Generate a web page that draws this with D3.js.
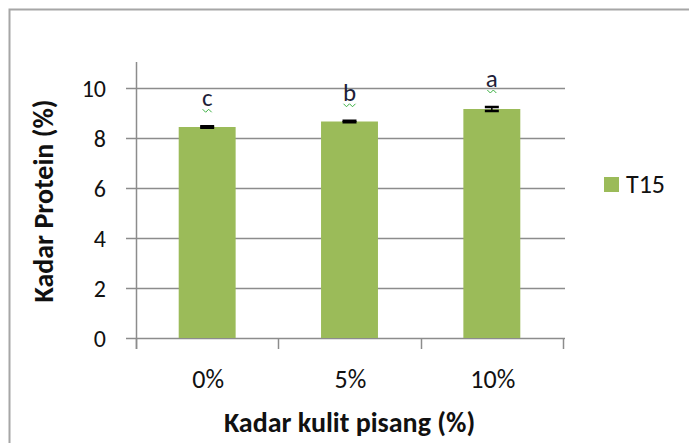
<!DOCTYPE html>
<html>
<head>
<meta charset="utf-8">
<script src="https://cdnjs.cloudflare.com/ajax/libs/d3/7.8.5/d3.min.js"></script>
<style>
  html, body { margin: 0; padding: 0; background: #fff; overflow: hidden; }
  text { font-family: Carlito, Lato, "Open Sans", sans-serif; fill: #111; }
</style>
</head>
<body>
<svg id="chart" width="689" height="443"></svg>
<script>
var categories = ['0%', '5%', '10%'];
var proteinValues = [8.44, 8.66, 9.16];
var errorValues = [0.03, 0.03, 0.08];
var letters = ['c', 'b', 'a'];
var yTicks = [0, 2, 4, 6, 8, 10];
var seriesName = 'T15';

var svg = d3.select('#chart');
var green = '#9bbb59';
var gridColor = '#8c8c8c';

var plotLeft = 136, plotRight = 563, plotTop = 62, plotBottom = 338;

// outer chart border (right & bottom are cut off in the picture)
svg.append('path')
    .attr('d', 'M9.5,445 V9.5 H700')
    .attr('fill', 'none')
    .attr('stroke', '#a6a6a6')
    .attr('stroke-width', 2);

var x = d3.scaleBand().domain(categories).range([plotLeft, plotRight]).paddingInner(0.6).paddingOuter(0.3);
var y = d3.scaleLinear().domain([0, 11.04]).range([plotBottom, plotTop]);

// gridlines + y ticks
svg.append('g')
    .selectAll('line')
    .data(yTicks)
    .join('line')
    .attr('x1', plotLeft - 10)
    .attr('x2', plotRight + 2)
    .attr('y1', function (d) { return Math.round(y(d)) + 0.5; })
    .attr('y2', function (d) { return Math.round(y(d)) + 0.5; })
    .attr('stroke', gridColor)
    .attr('stroke-width', 1.5);

// y axis line
svg.append('line')
    .attr('x1', plotLeft + 0.5).attr('x2', plotLeft + 0.5)
    .attr('y1', plotTop).attr('y2', plotBottom + 11)
    .attr('stroke', gridColor).attr('stroke-width', 1.5);

// x ticks between categories
var xTickPos = d3.range(categories.length + 1).map(function (i) {
    return plotLeft + i * (plotRight - plotLeft) / categories.length;
});
svg.append('g')
    .selectAll('line')
    .data(xTickPos)
    .join('line')
    .attr('x1', function (d) { return Math.round(d) + 0.5; })
    .attr('x2', function (d) { return Math.round(d) + 0.5; })
    .attr('y1', plotBottom).attr('y2', plotBottom + 11)
    .attr('stroke', gridColor).attr('stroke-width', 1.5);

// bars
svg.append('g')
    .selectAll('rect')
    .data(proteinValues)
    .join('rect')
    .attr('x', function (d, i) { return x(categories[i]); })
    .attr('y', function (d) { return y(d); })
    .attr('width', x.bandwidth())
    .attr('height', function (d) { return y(0) - y(d); })
    .attr('fill', green);

// error bars
var eb = svg.append('g').attr('stroke', '#000').attr('stroke-width', 2.5);
proteinValues.forEach(function (v, i) {
    var cx = x(categories[i]) + x.bandwidth() / 2;
    var e = errorValues[i];
    eb.append('line').attr('x1', cx).attr('x2', cx).attr('y1', y(v - e)).attr('y2', y(v + e)).attr('stroke-width', 1.5);
    eb.append('line').attr('x1', cx - 7).attr('x2', cx + 7).attr('y1', y(v + e)).attr('y2', y(v + e));
    eb.append('line').attr('x1', cx - 7).attr('x2', cx + 7).attr('y1', y(v - e)).attr('y2', y(v - e));
});

// significance letters with the green spell-check squiggle
letters.forEach(function (l, i) {
    var cx = x(categories[i]) + x.bandwidth() / 2;
    var by = y(proteinValues[i] + errorValues[i]) - 20;
    svg.append('text')
        .attr('x', cx).attr('y', by)
        .attr('text-anchor', 'middle')
        .attr('font-size', 25)
        .style('fill', '#1f1f3a')
        .text(l);
    var w = l === 'b' ? 12 : 9;
    var pts = [];
    for (var k = 0; k <= w / 3; k++) {
        pts.push([cx - w / 2 + k * 3, by + 3 + (k % 2 ? 3 : 0)]);
    }
    svg.append('path')
        .attr('d', d3.line()(pts))
        .attr('fill', 'none')
        .attr('stroke', '#3cb043')
        .attr('stroke-width', 1);
});

// y tick labels
svg.append('g')
    .selectAll('text')
    .data(yTicks)
    .join('text')
    .attr('x', 106)
    .attr('y', function (d) { return y(d); })
    .attr('dy', '0.36em')
    .attr('text-anchor', 'end')
    .attr('font-size', 24)
    .text(function (d) { return d; });

// x tick labels
svg.append('g')
    .selectAll('text')
    .data(categories)
    .join('text')
    .attr('x', function (d) { return x(d) + x.bandwidth() / 2 + 1; })
    .attr('y', 388)
    .attr('text-anchor', 'middle')
    .attr('font-size', 26)
    .text(function (d) { return d; });

// axis titles
svg.append('text')
    .attr('x', (plotLeft + plotRight) / 2)
    .attr('y', 432)
    .attr('text-anchor', 'middle')
    .attr('font-size', 28)
    .attr('font-weight', 'bold')
    .text('Kadar kulit pisang (%)');

svg.append('text')
    .attr('transform', 'translate(53,201) rotate(-90)')
    .attr('text-anchor', 'middle')
    .attr('font-size', 28)
    .attr('font-weight', 'bold')
    .text('Kadar Protein (%)');

// legend
svg.append('rect').attr('x', 604).attr('y', 177).attr('width', 15).attr('height', 15).attr('fill', green);
svg.append('text').attr('x', 626).attr('y', 193).attr('font-size', 26).text(seriesName);
</script>
</body>
</html>
